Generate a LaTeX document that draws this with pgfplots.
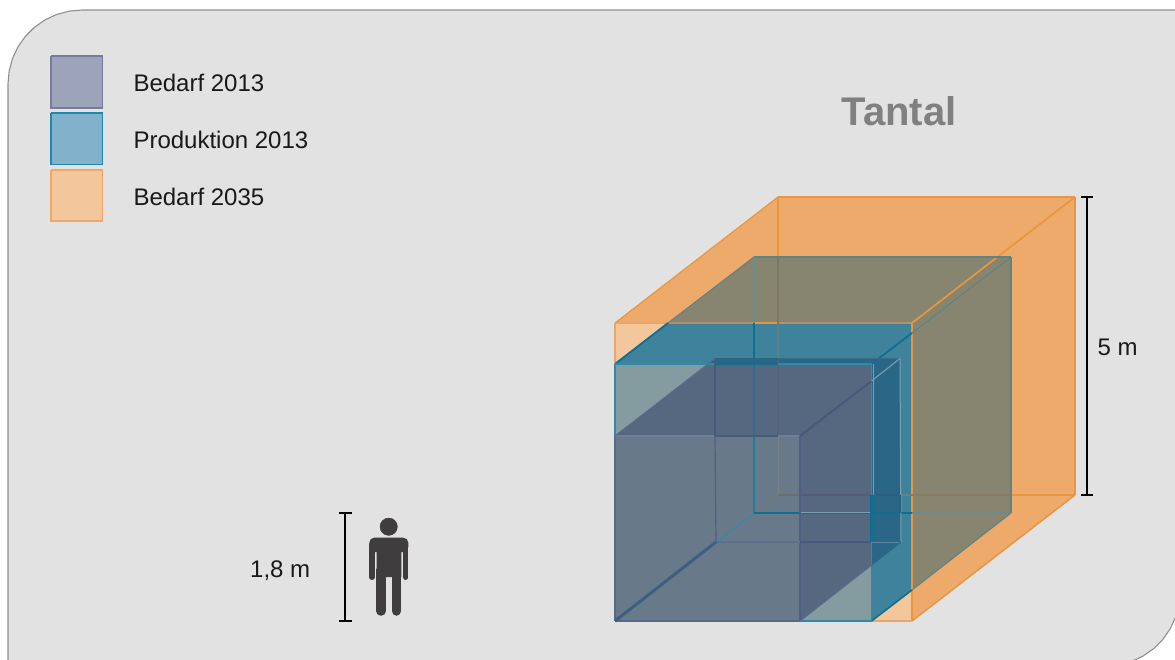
\documentclass[border=0pt]{standalone}
\usepackage{fontspec}
\setmainfont{Liberation Sans}
\usepackage{pgfplots}
\pgfplotsset{compat=1.18}
\definecolor{panel}{HTML}{E2E2E2}
\definecolor{panelline}{HTML}{909090}
\definecolor{oDark}{HTML}{EDAA6B}
\definecolor{oLight}{HTML}{F4C69C}
\definecolor{olive}{HTML}{878570}
\definecolor{teal1}{HTML}{3F829B}
\definecolor{bFront}{HTML}{849C9F}
\definecolor{deepB}{HTML}{2A6787}
\definecolor{gFrame}{HTML}{566880}
\definecolor{gFront}{HTML}{687A8A}
\definecolor{oLine}{HTML}{E8963F}
\definecolor{oSoft}{HTML}{E9A66A}
\definecolor{tan1}{HTML}{B98E68}
\definecolor{bDark}{HTML}{0E6F93}
\definecolor{bLine}{HTML}{2F8AAA}
\definecolor{bSoft}{HTML}{5F8283}
\definecolor{gLine}{HTML}{5D6A8C}
\definecolor{gThick}{HTML}{465A7B}
\definecolor{pale}{HTML}{7BA0B5}
\definecolor{person}{HTML}{3F3D3E}
\newcommand{\seg}[4]{\addplot[draw=#1,line width=#2pt,line cap=butt] coordinates {(#3) (#4)};}
\newcommand{\face}[2]{\addplot[fill=#1,draw=none] coordinates {#2};}
\begin{document}
\begin{tikzpicture}
\begin{axis}[
  hide axis, scale only axis, width=1175pt, height=659pt,
  xmin=0, xmax=1175, ymin=0, ymax=659, y dir=reverse, clip=true,
  every axis plot/.append style={forget plot}]
% page and panel
\face{white}{(0,0)(1175,0)(1175,659)(0,659)(0,0)}
\addplot[fill=panel,draw=panelline,line width=1.1pt] coordinates {
  (8,680)(8,84)(9.12,71.15)(12.46,58.69)(17.91,47)(25.31,36.43)(34.43,27.31)(45,19.91)(56.69,14.46)(69.15,11.12)(82,10)
  (1190,10)(1190,592)(1180,592)(1178.88,604.85)(1175.54,617.31)(1170.09,629)(1162.69,639.57)(1153.57,648.69)(1143,656.09)(1131.31,661.54)(1118.85,664.88)(1106,666)
  (1106,680)(8,680)};
% regions: Bedarf 2035
\face{oDark}{(615,323)(778,197)(1075,197)(1075,495)(912,621)(615,621)(615,323)}
\face{oLight}{(615,323)(912,323)(912,621)(615,621)(615,323)}
% regions: Produktion 2013
\face{olive}{(615,364)(754,257)(1011,257)(1011,513)(871.5,621)(615,621)(615,364)}
\face{teal1}{(615,364)(668.3,323)(912,323)(912,589.6)(871.5,621)(615,621)(615,364)}
\face{bFront}{(615,364)(871.5,364)(871.5,621)(615,621)(615,364)}
% regions: Bedarf 2013
\face{deepB}{(615,436)(715,358.5)(900,358.5)(901,542)(800,621)(615,621)(615,436)}
\face{gFrame}{(615,436)(707.9,364)(871.5,364)(871.5,565)(800,621)(615,621)(615,436)}
\face{gFront}{(615,436)(800,436)(800,621)(615,621)(615,436)}
% orange edges
\seg{oLine}{1.2}{615,323}{778,197}
\seg{oLine}{1.2}{778,197}{1075,197}
\seg{oLine}{1.4}{1075,197}{1075,495}
\seg{oLine}{1.7}{1075,197}{912,323}
\seg{oLine}{1.5}{1075,495}{912,621}
\seg{oLine}{1.5}{1011,495}{1075,495}
\seg{oLine}{1.2}{778,197}{778,257}
\seg{oSoft}{1.2}{615,323}{615,364}
\seg{oSoft}{1.2}{615,323}{668,323}
\seg{tan1}{1.5}{668,323}{912,323}
\seg{oLine}{1.8}{754,323}{778,323}
\seg{oLine}{1.1}{912,323}{912,621}
\seg{oSoft}{1.4}{871.5,621}{912,621}
\seg{{rgb,255:red,122;green,120;blue,96}}{1.5}{778,257}{778,323}
\seg{{rgb,255:red,95;green,128;blue,136}}{1.5}{778,323}{778,358}
\seg{{rgb,255:red,87;green,96;blue,124}}{2}{778,358}{778,436}
\seg{{rgb,255:red,122;green,128;blue,136}}{1}{778,436}{778,495}
\seg{{rgb,255:red,107;green,110;blue,112}}{1.2}{778,495}{800,495}
\seg{{rgb,255:red,82;green,92;blue,120}}{1.6}{800,495}{871,495}
\seg{{rgb,255:red,42;green,96;blue,128}}{1.8}{871,495}{900,495}
\seg{{rgb,255:red,107;green,127;blue,134}}{1.3}{900,495}{912,495}
\seg{{rgb,255:red,138;green,125;blue,96}}{1.5}{912,495}{1011,495}
\seg{{rgb,255:red,119;green,119;blue,119}}{1}{754,513}{778,495}
% blue edges
\seg{bDark}{1.8}{615,364}{668,323}
\seg{bSoft}{1.1}{668,323}{754,257}
\seg{bSoft}{1.1}{754,257}{1011,257}
\seg{bSoft}{1.1}{1011,257}{1011,513}
\seg{bDark}{1.8}{871.5,364}{912,333}
\seg{bSoft}{1.1}{912,333}{1011,257}
\seg{bDark}{1.6}{871.5,621}{912,590}
\seg{bSoft}{1.1}{912,590}{1011,513}
\seg{{rgb,255:red,108;green,144;blue,144}}{1}{754,257}{754,323}
\seg{bDark}{2.4}{754,323}{754,364}
\seg{{rgb,255:red,47;green,108;blue,142}}{2.2}{754,364}{754,436}
\seg{{rgb,255:red,31;green,125;blue,160}}{1.3}{754,436}{754,513}
\seg{bDark}{1.3}{754,513}{800,513}
\seg{bDark}{1.5}{800,513.6}{871.5,513.6}
\seg{pale}{0.8}{800,512}{871.5,512}
\seg{bDark}{1.6}{871.5,513}{912,513}
\seg{{rgb,255:red,111;green,138;blue,136}}{1.2}{912,513}{1011,513}
\seg{bLine}{1.1}{615,364}{754,364}
\seg{bDark}{2}{715,364}{778,364}
\seg{bLine}{1.1}{778,364}{871.5,364}
\seg{bLine}{1.1}{871.5,364}{871.5,621}
\seg{pale}{0.8}{873,364}{873,495}
\seg{bDark}{2.4}{871.5,495}{871.5,542}
\seg{bLine}{1.1}{615,364}{615,436}
\seg{bLine}{1}{754,513}{717,542}
\seg{bLine}{1.2}{800,621}{871.5,621}
% grey edges
\seg{{rgb,255:red,86;green,106;blue,136}}{1.3}{615,436}{615,621}
\seg{{rgb,255:red,109;green,126;blue,154}}{1.2}{615,436}{800,436}
\seg{gThick}{2.4}{715,436}{778,436}
\seg{{rgb,255:red,79;green,94;blue,130}}{1.7}{800,436}{800,621}
\seg{{rgb,255:red,86;green,106;blue,136}}{2}{615,621}{800,621}
\seg{{rgb,255:red,58;green,106;blue,140}}{1.1}{715,358.5}{900,358.5}
\seg{deepB}{2.6}{715,359.5}{778,359.5}
\seg{gThick}{2.4}{715,358.5}{715,436}
\seg{{rgb,255:red,79;green,94;blue,130}}{1.2}{715,436}{716,542}
\seg{pale}{1}{900,358.5}{901,542}
\seg{{rgb,255:red,42;green,96;blue,128}}{2}{900,495}{900,513}
\seg{{rgb,255:red,93;green,111;blue,140}}{1.1}{716,542}{800,542}
\seg{gThick}{2.2}{800,542}{871,542}
\seg{{rgb,255:red,93;green,135;blue,165}}{1}{871,542}{901,542}
\seg{gLine}{1}{615,436}{715,358.5}
\seg{{rgb,255:red,72;green,88;blue,120}}{2}{800,436}{871.5,381}
\seg{pale}{1}{871.5,381}{900,358.5}
\seg{gLine}{1.2}{800,621}{871.5,565}
\seg{deepB}{1}{871.5,565}{901,542}
\seg{{rgb,255:red,63;green,95;blue,128}}{3}{615,621}{716,542}
% legend
\addplot[fill={rgb,255:red,157;green,163;blue,185},draw={rgb,255:red,118;green,124;blue,158},line width=1.5pt] coordinates {(51,56)(102.7,56)(102.7,108)(51,108)(51,56)};
\addplot[fill={rgb,255:red,129;green,177;blue,203},draw={rgb,255:red,31;green,136;blue,174},line width=1.5pt] coordinates {(51,113)(102.7,113)(102.7,164.7)(51,164.7)(51,113)};
\addplot[fill=oLight,draw={rgb,255:red,240;green,166;blue,104},line width=1.5pt] coordinates {(51,170)(102.7,170)(102.7,221)(51,221)(51,170)};
% scale bars
\seg{black}{2}{1087,197}{1087,495}
\seg{black}{2}{1081,197}{1093,197}
\seg{black}{2}{1081,495}{1093,495}
\seg{black}{2}{345,513.3}{345,620.7}
\seg{black}{2}{339,513.3}{351.5,513.3}
\seg{black}{2}{339,620.7}{351.5,620.7}
% person
\addplot[only marks,mark=*,mark size=8.7,color=person] coordinates {(388.7,526.7)};
\addplot[fill=person,draw=none,rounded corners=5pt] coordinates {(369.3,552)(369.3,537.7)(408.3,537.7)(408.3,552)(369.3,552)};
\face{person}{(376.7,540)(401.3,540)(401.3,577)(376.7,577)(376.7,540)}
\addplot[draw=person,line width=5.2pt,line cap=round] coordinates {(371.9,545)(371.9,577.4)};
\addplot[draw=person,line width=5.2pt,line cap=round] coordinates {(405.7,545)(405.7,577.4)};
\addplot[draw=person,line width=9.5pt,line cap=round] coordinates {(381,570)(381,611)};
\addplot[draw=person,line width=9.5pt,line cap=round] coordinates {(396.4,570)(396.4,611)};
% text
\node[anchor=west,inner sep=0pt,font=\fontsize{24}{28}\selectfont,text=black!90] at (axis cs:133.3,83) {Bedarf 2013};
\node[anchor=west,inner sep=0pt,font=\fontsize{24}{28}\selectfont,text=black!90] at (axis cs:133.3,140) {Produktion 2013};
\node[anchor=west,inner sep=0pt,font=\fontsize{24}{28}\selectfont,text=black!90] at (axis cs:133.3,197) {Bedarf 2035};
\node[anchor=center,inner sep=0pt,font=\fontsize{40}{44}\selectfont\bfseries,text={rgb,255:red,128;green,128;blue,128}] at (axis cs:899,111.5) {Tantal};
\node[anchor=west,inner sep=0pt,font=\fontsize{24}{28}\selectfont,text=black!90] at (axis cs:1097.5,347.5) {5 m};
\node[anchor=west,inner sep=0pt,font=\fontsize{24}{28}\selectfont,text=black!90] at (axis cs:250,570.5) {1,8 m};
\end{axis}
\end{tikzpicture}
\end{document}
